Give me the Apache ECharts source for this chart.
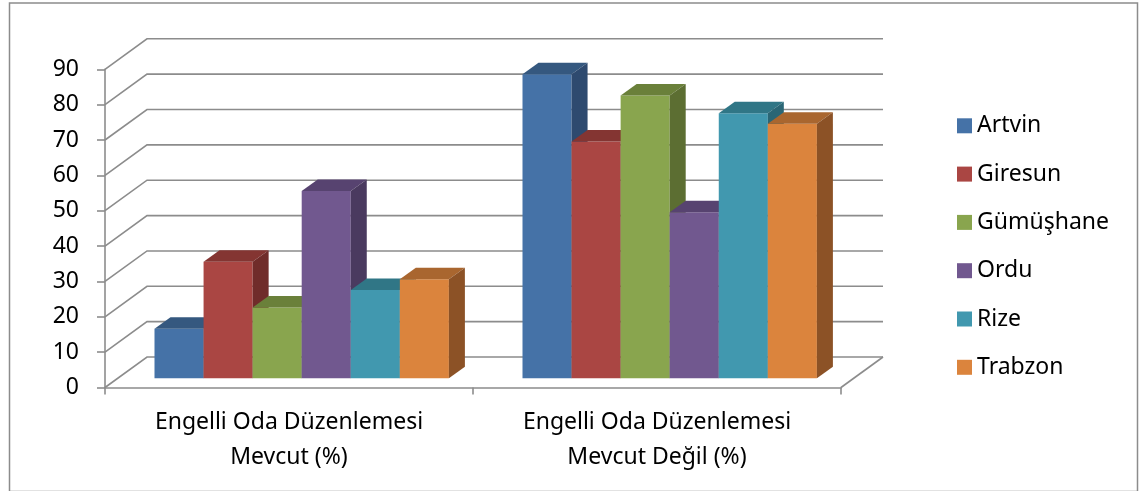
<!DOCTYPE html>
<html>
<head>
<meta charset="utf-8">
<script src="https://cdn.jsdelivr.net/npm/echarts@6/dist/echarts.min.js"></script>
<style>
html,body{margin:0;padding:0;background:#fff;}
#chart{width:1142px;height:491px;}
</style>
</head>
<body>
<div id="chart"></div>
<script>
// ---- data ----
const categories = ['Engelli Oda Düzenlemesi\nMevcut (%)', 'Engelli Oda Düzenlemesi\nMevcut Değil (%)'];
const cities = ['Artvin', 'Giresun', 'Gümüşhane', 'Ordu', 'Rize', 'Trabzon'];
const artvin = [14, 86];
const giresun = [33, 67];
const gumushane = [20, 80];
const ordu = [53, 47];
const rize = [25, 75];
const trabzon = [28, 72];
const yTicks = [0, 10, 20, 30, 40, 50, 60, 70, 80, 90];

const seriesValues = [artvin, giresun, gumushane, ordu, rize, trabzon];

// ---- styles ----
const frontColors = ['#4572A7', '#AA4643', '#89A54E', '#71588F', '#4198AF', '#DB843D'];
const topColors   = ['#35587F', '#843532', '#6A803A', '#574370', '#307686', '#A9662F'];
const sideColors  = ['#2E4A6F', '#702C2A', '#5C6E32', '#4A3A5F', '#2A6675', '#8C5226'];

const WALL_DX = 42, WALL_DY = 30.5;   // depth of the 3D box
const BAR_FDX = 12.7, BAR_FDY = 9.2;  // bar front offset into depth
const BAR_DX = 16, BAR_DY = 11.5;     // bar depth
const GRID_COLOR = '#8c8c8c';
const FONT = 'Noto Sans';

const chart = echarts.init(document.getElementById('chart'), null, {renderer: 'canvas'});

function renderGrid(params, api) {
  const cs = params.coordSys;
  const v = api.value(0);
  const y = api.coord([0, v])[1];
  const x0 = cs.x, x1 = cs.x + cs.width;
  const children = [{
    type: 'polyline',
    shape: {points: [[x0, y], [x0 + WALL_DX, y - WALL_DY], [x1 + WALL_DX, y - WALL_DY]]},
    style: {stroke: GRID_COLOR, lineWidth: 1.6, fill: null}
  }];
  if (v === 0) {
    children.push({
      type: 'line',
      shape: {x1: x1, y1: y, x2: x1 + WALL_DX, y2: y - WALL_DY},
      style: {stroke: GRID_COLOR, lineWidth: 1.6}
    });
  }
  return {type: 'group', children: children};
}

function makeBarRenderer(k) {
  return function (params, api) {
    const cat = api.value(0), val = api.value(1);
    const base = api.coord([cat, 0]);
    const top = api.coord([cat, val]);
    const band = api.size([1, 0])[0];
    const bw = band * 0.8 / cities.length;
    const x = base[0] - band * 0.4 + k * bw + BAR_FDX;
    const yb = base[1] - BAR_FDY;
    const yt = top[1] - BAR_FDY;
    return {
      type: 'group',
      children: [
        {type: 'rect', shape: {x: x, y: yt, width: bw, height: yb - yt},
         style: {fill: frontColors[k]}},
        {type: 'polygon', shape: {points: [[x, yt], [x + BAR_DX, yt - BAR_DY], [x + bw + BAR_DX, yt - BAR_DY], [x + bw, yt]]},
         style: {fill: topColors[k]}},
        {type: 'polygon', shape: {points: [[x + bw, yt], [x + bw + BAR_DX, yt - BAR_DY], [x + bw + BAR_DX, yb - BAR_DY], [x + bw, yb]]},
         style: {fill: sideColors[k]}}
      ]
    };
  };
}

const series = [{
  type: 'custom',
  name: '__grid',
  silent: true,
  z: 1,
  data: yTicks.map(v => [v]),
  encode: {y: 0},
  renderItem: renderGrid
}];
cities.forEach((name, k) => {
  series.push({
    type: 'custom',
    name: name,
    z: 2,
    color: frontColors[k],
    itemStyle: {color: frontColors[k]},
    data: seriesValues[k].map((v, i) => [i, v]),
    encode: {x: 0, y: 1},
    renderItem: makeBarRenderer(k)
  });
});

chart.setOption({
  animation: false,
  backgroundColor: '#fff',
  grid: {left: 105, top: 69.3, width: 736, height: 318.2, containLabel: false},
  xAxis: {
    type: 'category',
    data: categories,
    axisLine: {show: true, lineStyle: {color: GRID_COLOR, width: 1.6}},
    axisTick: {show: true, length: 7, lineStyle: {color: GRID_COLOR, width: 1.6}},
    axisLabel: {color: '#000', fontFamily: FONT, fontSize: 23, lineHeight: 35, margin: 17, interval: 0},
    splitLine: {show: false}
  },
  yAxis: {
    type: 'value',
    min: 0, max: 90, interval: 10,
    axisLine: {show: true, lineStyle: {color: GRID_COLOR, width: 1.6}},
    axisTick: {show: true, length: 8, lineStyle: {color: GRID_COLOR, width: 1.6}},
    axisLabel: {color: '#000', fontFamily: FONT, fontSize: 23, margin: 26},
    splitLine: {show: false}
  },
  legend: {
    data: cities,
    orient: 'vertical',
    left: 957,
    top: 114.3,
    padding: 0,
    itemWidth: 15,
    itemHeight: 15,
    itemGap: 25.3,
    icon: 'rect',
    selectedMode: false,
    textStyle: {color: '#000', fontFamily: FONT, fontSize: 23, lineHeight: 23}
  },
  graphic: [{
    type: 'rect',
    left: 7, top: 0.5,
    shape: {width: 1128, height: 488.5},
    style: {fill: null, stroke: GRID_COLOR, lineWidth: 1.5},
    silent: true
  }],
  series: series
});
</script>
</body>
</html>
